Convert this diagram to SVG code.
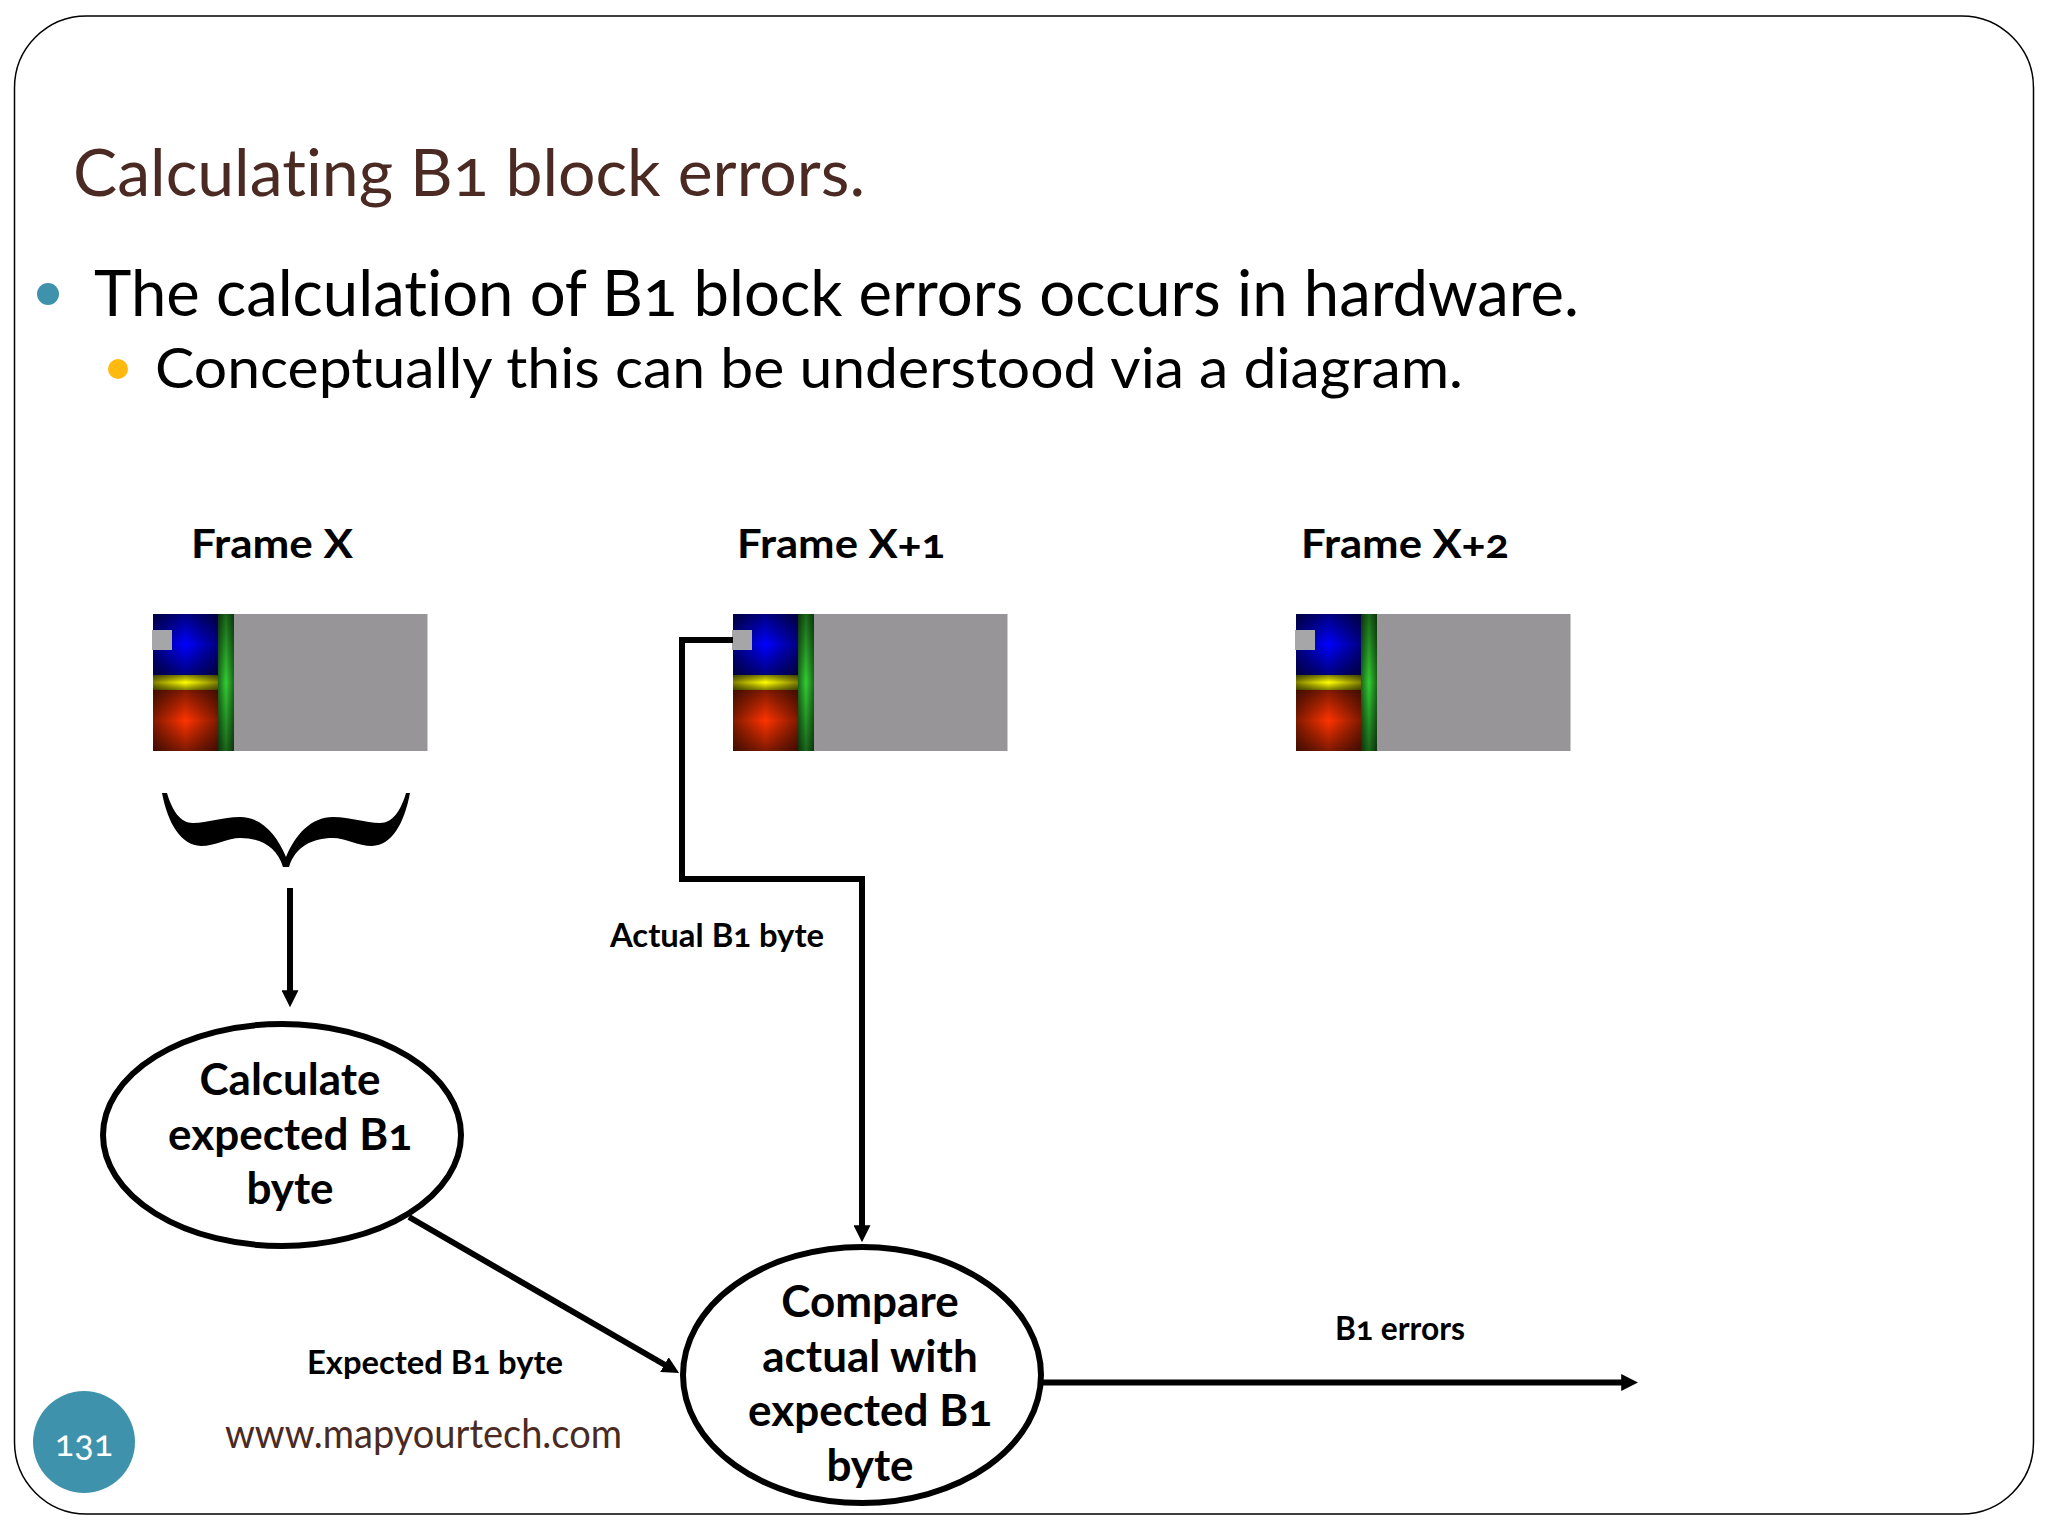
<svg xmlns="http://www.w3.org/2000/svg" xmlns:xlink="http://www.w3.org/1999/xlink" width="2048" height="1536" viewBox="0 0 2048 1536">
<style>
text{font-family:"Lato","Open Sans","Liberation Sans",sans-serif;font-variant-numeric:oldstyle-nums;font-feature-settings:"onum","liga" 0;font-variant-ligatures:none}
.t{font-size:66px;fill:#4a2a22}
.b1{font-size:63px;fill:#000}
.b2{font-size:57px;fill:#000}
.fl{font-size:41px;font-weight:700;fill:#000}
.n{font-size:44px;font-weight:700;fill:#000;text-anchor:middle}
.l{font-size:32px;font-weight:700;fill:#000}
.conn{fill:none;stroke:#000;stroke-width:6}
.ell{fill:#fff;stroke:#000;stroke-width:6}
</style>
<defs>
<linearGradient id="eh"><stop offset="0" stop-color="#000" stop-opacity=".5"/><stop offset=".3" stop-color="#000" stop-opacity=".2"/><stop offset=".5" stop-color="#000" stop-opacity="0"/><stop offset=".7" stop-color="#000" stop-opacity=".2"/><stop offset="1" stop-color="#000" stop-opacity=".5"/></linearGradient>
<linearGradient id="ev" x2="0" y2="1"><stop offset="0" stop-color="#000" stop-opacity=".5"/><stop offset=".3" stop-color="#000" stop-opacity=".2"/><stop offset=".5" stop-color="#000" stop-opacity="0"/><stop offset=".7" stop-color="#000" stop-opacity=".2"/><stop offset="1" stop-color="#000" stop-opacity=".5"/></linearGradient>
<marker id="ah" viewBox="0 0 10 10" refX="4" refY="5" markerWidth="17" markerHeight="17" markerUnits="userSpaceOnUse" orient="auto" preserveAspectRatio="none"><path d="M0 0L10 5L0 10Z" fill="#000"/></marker>
<g id="frame">
<rect x="234" y="614" width="193.500" height="137" fill="#979597"/>
<rect x="153" y="614" width="65" height="61" fill="#0000ff"/>
<rect x="153" y="614" width="65" height="61" fill="url(#eh)"/><rect x="153" y="614" width="65" height="61" fill="url(#ev)"/>
<rect x="153" y="675" width="65" height="15" fill="#ffff00"/>
<rect x="153" y="675" width="65" height="15" fill="url(#eh)"/><rect x="153" y="675" width="65" height="15" fill="url(#ev)"/>
<rect x="153" y="690" width="65" height="61" fill="#ff3300"/>
<rect x="153" y="690" width="65" height="61" fill="url(#eh)"/><rect x="153" y="690" width="65" height="61" fill="url(#ev)"/>
<rect x="218" y="614" width="16" height="137" fill="#33cc33"/>
<rect x="218" y="614" width="16" height="137" fill="url(#eh)"/><rect x="218" y="614" width="16" height="137" fill="url(#ev)"/>
<rect x="152" y="630" width="20" height="20" fill="#a6a6a8"/>
</g>
</defs>
<rect width="2048" height="1536" fill="#fff"/>
<g id="slide"><rect x="14.500" y="16" width="2019" height="1498" rx="72" ry="72" fill="#fff" stroke="#000" stroke-width="1.500"/></g>
<g id="title"><text class="t" x="73" y="196" textLength="792" lengthAdjust="spacingAndGlyphs">Calculating B1 block errors.</text></g>
<g id="bullets">
<circle cx="48" cy="294" r="11" fill="#3f92ab"/>
<text class="b1" x="94" y="316" textLength="1485" lengthAdjust="spacingAndGlyphs">The calculation of B1 block errors occurs in hardware.</text>
<circle cx="118" cy="369" r="10" fill="#ffb90f"/>
<text class="b2" x="155" y="388" textLength="1308" lengthAdjust="spacingAndGlyphs">Conceptually this can be understood via a diagram.</text>
</g>
<g id="frame-x"><text class="fl" x="191" y="558" textLength="162" lengthAdjust="spacingAndGlyphs">Frame X</text><use xlink:href="#frame" href="#frame"/></g>
<g id="frame-x1"><text class="fl" x="737" y="558" textLength="208" lengthAdjust="spacingAndGlyphs">Frame X+1</text><use xlink:href="#frame" href="#frame" x="580"/></g>
<g id="frame-x2"><text class="fl" x="1301" y="558" textLength="208" lengthAdjust="spacingAndGlyphs">Frame X+2</text><use xlink:href="#frame" href="#frame" x="1143"/></g>
<g id="brace"><path d="M162 793L167 793C172 810 180 823 193 823C208 823 222 817 240 817C262 817 277 835 286 857C295 835 311 817 333 817C351 817 365 823 380 823C393 823 401 810 406 793L410 793C404 824 392 845 372 846C358 846 345 838 333 838C312 838 295 847 289 867L283 867C277 847 261 838 240 838C228 838 215 846 201 846C181 845 168 824 162 793Z" fill="#000"/></g>
<g id="connectors">
<path class="conn" d="M290 888V997" marker-end="url(#ah)"/>
<path class="conn" d="M733 640H682V879H862V1232" marker-end="url(#ah)"/>
<path class="conn" d="M409 1217L670.300 1368" marker-end="url(#ah)"/>
<path class="conn" d="M1042 1382.500H1628" marker-end="url(#ah)"/>
</g>
<g id="node-calc"><ellipse class="ell" cx="282" cy="1135" rx="179" ry="111"/>
<text class="n" x="290" y="1095">Calculate</text><text class="n" x="290" y="1150">expected B1</text><text class="n" x="290" y="1204">byte</text></g>
<g id="node-compare"><ellipse class="ell" cx="862" cy="1375" rx="179" ry="128"/>
<text class="n" x="870" y="1317">Compare</text><text class="n" x="870" y="1372">actual with</text><text class="n" x="870" y="1426">expected B1</text><text class="n" x="870" y="1481">byte</text></g>
<g id="labels">
<text class="l" x="610" y="947" textLength="214" lengthAdjust="spacingAndGlyphs">Actual B1 byte</text>
<text class="l" x="307" y="1374" textLength="256" lengthAdjust="spacingAndGlyphs">Expected B1 byte</text>
<text class="l" x="1335" y="1340" textLength="130" lengthAdjust="spacingAndGlyphs">B1 errors</text>
</g>
<g id="footer">
<text x="225" y="1448" font-size="40" fill="#4a2a22" textLength="397" lengthAdjust="spacingAndGlyphs">www.mapyourtech.com</text>
<circle cx="84" cy="1442" r="51" fill="#3f92ab"/>
<text x="84" y="1456" font-size="36" fill="#fff" text-anchor="middle">131</text>
</g>
</svg>
